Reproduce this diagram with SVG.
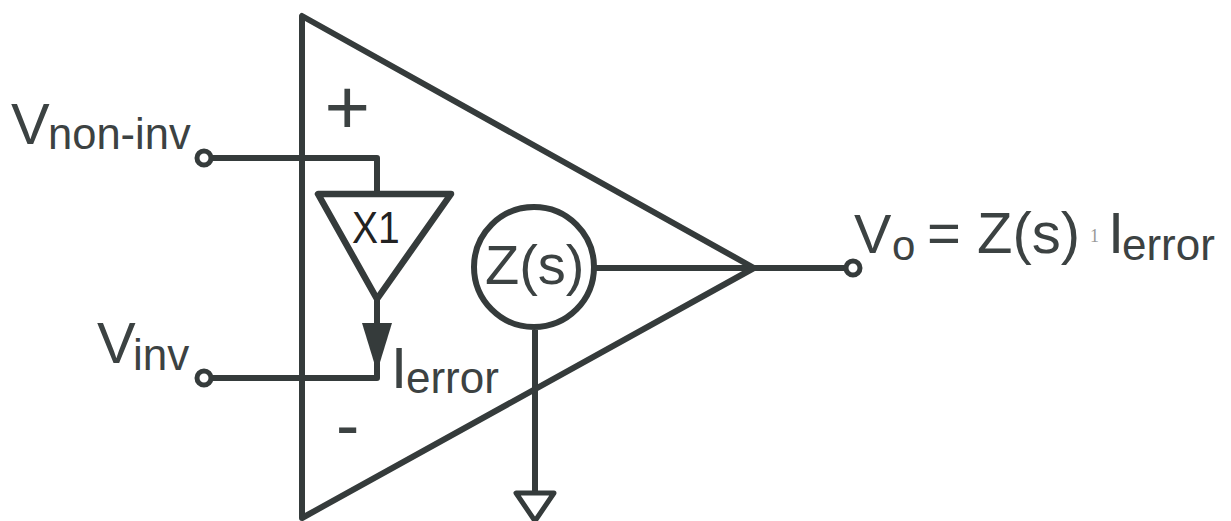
<svg xmlns="http://www.w3.org/2000/svg" width="1231" height="521" viewBox="0 0 1231 521">
<style>
.w{fill:none;stroke:#353b3b;stroke-width:6;stroke-linejoin:round}
.t{font-family:"Liberation Sans",Arial,sans-serif;fill:#3c4242}
.big{font-size:58px}
.sub{font-size:44px}
.term{fill:#fff;stroke:#353b3b;stroke-width:5}
</style>
<rect width="1231" height="521" fill="#fff"/>
<g id="connectors">
<path class="w" d="M212 158H377V192"/>
<path class="w" d="M377 300V378H212"/>
<path class="w" d="M595 268H850"/>
<path class="w" d="M535 330V493"/>
</g>
<g id="opamp"><path class="w" d="M302 16V518L754 268Z"/></g>
<g id="buffer"><path class="w" style="stroke-width:6.5" d="M318 194H451L377 299Z"/><text x="352" y="243" font-size="39" font-family="Liberation Sans, Arial, sans-serif" fill="#222" transform="translate(352 243) scale(1 1.15) translate(-352 -243)">X1</text></g>
<g id="arrow"><path fill="#353b3b" d="M362 323H392L377 372Z"/></g>
<g id="impedance"><circle cx="534" cy="267" r="60" fill="#fff" stroke="#353b3b" stroke-width="6"/><text class="t" x="485" y="284" font-size="56">Z(s)</text></g>
<g id="ground"><path class="w" style="stroke-width:5" d="M516 493H554L535 521Z"/></g>
<g id="t1"><circle class="term" cx="204" cy="158" r="7"/></g>
<g id="t2"><circle class="term" cx="204" cy="378" r="7"/></g>
<g id="t3"><circle class="term" cx="853" cy="268" r="7"/></g>
<g id="labels">
<text class="t big" x="11" y="144">V</text><text class="t" x="48" y="149" font-size="43.5">non-inv</text>
<text class="t big" x="97" y="363">V</text><text class="t sub" x="133" y="370">inv</text>
<text class="t" x="324.5" y="134" font-size="78">+</text>
<text class="t" x="336" y="449" font-size="70">-</text>
<text class="t big" x="391" y="388">I</text><text class="t sub" x="406" y="393">error</text>
<text class="t" x="854" y="253" font-size="56">V</text><text class="t" x="892" y="260" font-size="42">o</text>
<text class="t big" x="927" y="253">= Z(s)</text>
<text x="1090" y="242" font-size="18" font-family="Liberation Serif, serif" fill="#999">1</text>
<text class="t big" x="1108" y="253">I</text><text class="t sub" x="1122" y="260">error</text>
</g>
</svg>
